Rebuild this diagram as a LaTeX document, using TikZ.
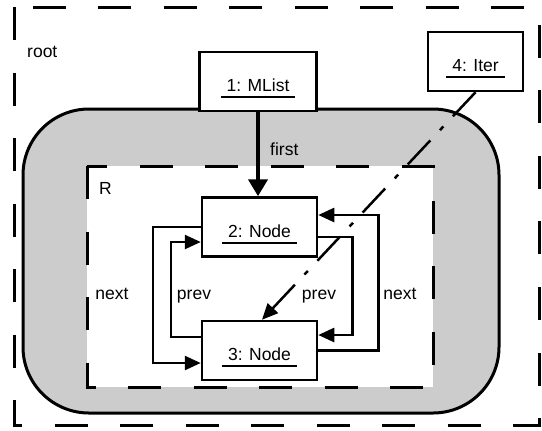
\documentclass[tikz,border=0pt]{standalone}
\usepackage{fontspec}
\setmainfont{Liberation Sans}
\usetikzlibrary{arrows.meta}
\usetikzlibrary{positioning}

% underlined object name
\newcommand{\uobj}[1]{\setbox0\hbox{\kern6bp#1\kern6bp}\rlap{\raisebox{-6.5bp}{\rule{\wd0}{1.6bp}}}\box0}

\begin{document}
\begin{tikzpicture}[
        x=1bp, y=-1bp,
        every node/.style={font=\fontsize{17.5bp}{21bp}\selectfont, inner sep=0pt},
        obj/.style={draw, line width=2.5bp, fill=white, minimum width=117bp, minimum height=59bp, text height=20bp, text depth=0pt},
        frame/.style={line width=3bp, dash pattern=on 33bp off 32.5bp},
        link/.style={line width=2.5bp, -{Triangle[length=16bp,width=14bp]}},
        firstlink/.style={line width=4.5bp, -{Triangle[length=17bp,width=19bp]}},
        iterlink/.style={line width=2.5bp, dash pattern=on 33bp off 14bp on 5bp off 14bp, -{Triangle[length=16bp,width=14bp]}},
        lbl/.style={anchor=base}
    ]
        \useasboundingbox (0,0) rectangle (542,430);

        % Regions
        \draw[frame] (14,7) rectangle (539,425);
        \draw[line width=3bp, fill=gray!40, rounded corners=66bp] (23,109) rectangle (499,413);
        \draw[frame, fill=white] (87,166) rectangle (433,387);
        \node[lbl, anchor=base west] (lroot) at (27,57) {root};
        \node[lbl, anchor=base west] (lR) at (99,194) {R};

        % Objects
        \node[obj] (mlist) at (258,81.5) {\uobj{1: MList}};
        \node[obj, minimum width=95bp] (iter) at (475.5,61.5) {\uobj{4: Iter}};
        \node[obj, minimum width=115bp] (n2) at (259.5,227) {\uobj{2: Node}};
        \node[obj, minimum width=115bp, below=62bp of n2] (n3) {\uobj{3: Node}};

        % Links
        \draw[firstlink] (mlist.south) -- (mlist.south |- n2.north);
        \node[lbl, anchor=base west] (lfirst) at (270,155) {first};

        \draw[link] (n2.west) -- ++(-48,0) |- ([yshift=-12.5bp]n3.west);
        \draw[link] ([yshift=13.5bp]n3.west) -- ++(-30,0) |- ([yshift=-15bp]n2.west);
        \draw[link] ([yshift=-10bp]n2.east) -- ++(34,0) |- ([yshift=15.5bp]n3.east);
        \draw[link] (n3.east) -- ++(60,0) |- ([yshift=12bp]n2.east);

        \node[lbl] (lnext1) at (112,299) {next};
        \node[lbl] (lprev1) at (194,299) {prev};
        \node[lbl] (lprev2) at (319,299) {prev};
        \node[lbl] (lnext2) at (400,299) {next};

        \draw[iterlink] (iter.south) -- ([xshift=2.5bp]n3.north);
    \end{tikzpicture}
\end{document}
